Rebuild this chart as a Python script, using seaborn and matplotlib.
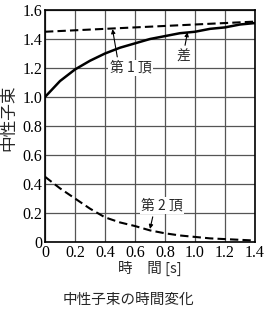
import matplotlib
matplotlib.use("Agg")
import matplotlib.pyplot as plt
import seaborn as sns
import pandas as pd
import numpy as np

t = [0.0, 0.1, 0.2, 0.3, 0.4, 0.5, 0.6, 0.7, 0.8, 0.9, 1.0, 1.1, 1.2, 1.3, 1.4]
term1 = [1.00, 1.11, 1.19, 1.25, 1.30, 1.34, 1.37, 1.40, 1.42, 1.44, 1.45, 1.47, 1.48, 1.50, 1.51]
term2 = [0.45, 0.37, 0.30, 0.23, 0.17, 0.135, 0.11, 0.08, 0.06, 0.045, 0.035, 0.025, 0.02, 0.015, 0.01]
diff = [1.45, 1.455, 1.46, 1.465, 1.47, 1.475, 1.48, 1.485, 1.49, 1.495, 1.50, 1.505, 1.51, 1.515, 1.52]

xticks = [0, 0.2, 0.4, 0.6, 0.8, 1.0, 1.2, 1.4]
xticklabels = ["0", "0.2", "0.4", "0.6", "0.8", "1.0", "1.2", "1.4"]
yticks = [0, 0.2, 0.4, 0.6, 0.8, 1.0, 1.2, 1.4, 1.6]
yticklabels = ["0", "0.2", "0.4", "0.6", "0.8", "1.0", "1.2", "1.4", "1.6"]

sns.set_theme(style="white")
jp = ["Noto Sans CJK JP", "DejaVu Sans"]
serif = ["Liberation Serif", "DejaVu Serif"]

fig = plt.figure(figsize=(2.67, 3.27), dpi=100)
ax = fig.add_axes([45/267, 1-242/327, 210/267, 232/327])

for xv in xticks:
    ax.axvline(xv, color="#555555", lw=0.9, zorder=0.5)
for yv in yticks:
    ax.axhline(yv, color="#555555", lw=0.9, zorder=0.5)

df = pd.DataFrame({"t": t, "term1": term1, "term2": term2, "diff": diff})
dash = (0, (4, 2))
sns.lineplot(data=df, x="t", y="term1", ax=ax, color="black", lw=1.8, zorder=3)
sns.lineplot(data=df, x="t", y="term2", ax=ax, color="black", lw=1.5, linestyle=dash, zorder=3)
sns.lineplot(data=df, x="t", y="diff", ax=ax, color="black", lw=1.5, linestyle=dash, zorder=3)

ax.set_xlim(0, 1.4)
ax.set_ylim(0, 1.6)
ax.set_xticks(xticks)
ax.set_xticklabels(xticklabels, family=serif, fontsize=11.5)
ax.set_yticks(yticks)
ax.set_yticklabels(yticklabels, family=serif, fontsize=11.5)
ax.tick_params(axis="both", length=0, pad=2, colors="black")
for s in ax.spines.values():
    s.set_visible(True)
    s.set_color("black")
    s.set_linewidth(1.2)
ax.set_xlabel("")
ax.set_ylabel("")

fig.text(9/267, 1-118/327, "中性子束", rotation=90, ha="center", va="center",
         family=jp, fontsize=12)
fig.text(150/267, 1-268/327, "時　間 [s]", ha="center", va="center",
         family=jp, fontsize=10.5)
fig.text(128/267, 1-300/327, "中性子束の時間変化", ha="center", va="center",
         family=jp, fontsize=10.5)

bbox = dict(boxstyle="square,pad=0.1", fc="white", ec="none")
ax.annotate("第 1 頂", xy=(0.45, 1.468), xytext=(0.57, 1.2), ha="center", va="center",
            family=jp, fontsize=10, zorder=4,
            arrowprops=dict(arrowstyle="-|>", color="black", lw=0.8, shrinkB=0,
                            mutation_scale=6, relpos=(0.2, 1.0)),
            bbox=bbox)
ax.annotate("差", xy=(0.95, 1.447), xytext=(0.92, 1.28), ha="center", va="center",
            family=jp, fontsize=10, zorder=4,
            arrowprops=dict(arrowstyle="-|>", color="black", lw=0.8, shrinkB=0, mutation_scale=6),
            bbox=bbox)
ax.annotate("第 2 頂", xy=(0.7, 0.09), xytext=(0.78, 0.25), ha="center", va="center",
            family=jp, fontsize=10, zorder=4,
            arrowprops=dict(arrowstyle="-|>", color="black", lw=0.8, shrinkB=0, mutation_scale=6,
                            relpos=(0.3, 0.0)),
            bbox=bbox)

fig.savefig("out.png", dpi=100, facecolor="white")
